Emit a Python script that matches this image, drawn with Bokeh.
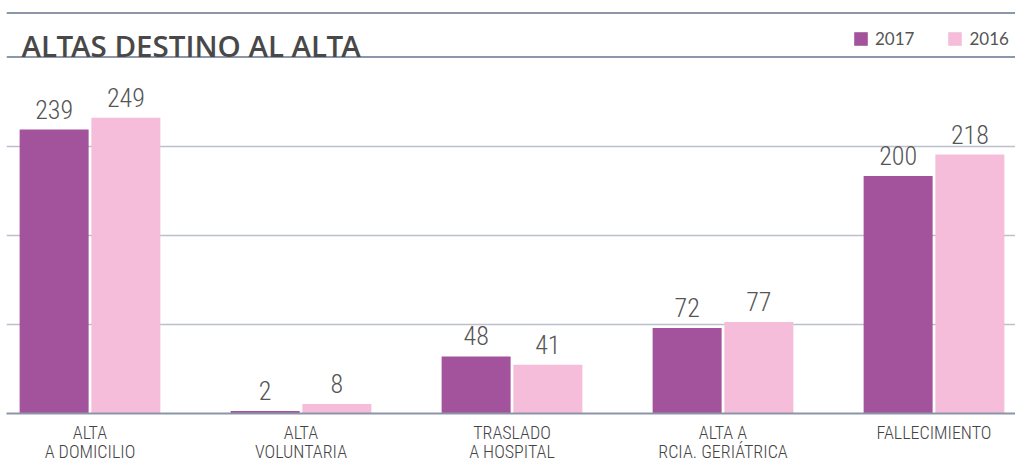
from bokeh.plotting import figure
from bokeh.models import ColumnDataSource, Range1d, FixedTicker, Span, Label, LabelSet, Legend, LegendItem
from bokeh.transform import dodge
from bokeh.core.properties import value
from bokeh.embed import file_html
from bokeh.resources import INLINE

# ---- data ----
categories = ["ALTA\nA DOMICILIO", "ALTA\nVOLUNTARIA", "TRASLADO\nA HOSPITAL",
              "ALTA A\nRCIA. GERIÁTRICA", "FALLECIMIENTO"]
years = ["2017", "2016"]
v2017 = [239, 2, 48, 72, 200]
v2016 = [249, 8, 41, 77, 218]
colors = ["#a3539b", "#f5bdda"]
title_text = "ALTAS DESTINO AL ALTA"

# ---- geometry helpers (picture pixel -> data) ----
LEFT = 6
FRAME_W, FRAME_H = 1009, 413
UNIT_X = 211.0       # px per category
PX_PER_VAL = 1.188   # px per unit value
X0 = (LEFT - 89.5) / UNIT_X
X1 = X0 + FRAME_W / UNIT_X
Y1 = FRAME_H / PX_PER_VAL

def dx(px):
    return X0 + (px - LEFT) / UNIT_X

def dy(py):
    return (FRAME_H - py) / PX_PER_VAL

idx = list(range(len(categories)))
src = ColumnDataSource(dict(x=idx, v2017=v2017, v2016=v2016,
                            l2017=[str(v) for v in v2017],
                            l2016=[str(v) for v in v2016]))

p = figure(frame_width=FRAME_W, frame_height=FRAME_H,
           x_range=Range1d(X0, X1), y_range=Range1d(0, Y1),
           output_backend="svg", toolbar_location=None,
           min_border_left=LEFT, min_border_right=0, min_border_top=0, min_border_bottom=51)
p.outline_line_color = None
p.background_fill_color = "white"
p.border_fill_color = "white"

# grid
p.xgrid.visible = False
p.yaxis.visible = False
p.ygrid.ticker = FixedTicker(ticks=[75, 150, 225])
p.ygrid.grid_line_color = "#bcc0cc"
p.ygrid.grid_line_width = 1.5

BW = 0.327
OFF = 0.17
r1 = p.vbar(x=dodge("x", -OFF, range=p.x_range), top="v2017", width=BW, source=src,
            fill_color=colors[0], line_color=None)
r2 = p.vbar(x=dodge("x", OFF, range=p.x_range), top="v2016", width=BW, source=src,
            fill_color=colors[1], line_color=None)

num_font = "'Roboto Condensed Light', 'Roboto Condensed', sans-serif"
for col, off in (("l2017", -OFF), ("l2016", OFF)):
    vcol = "v" + col[1:]
    p.add_layout(LabelSet(x=dodge("x", off, range=p.x_range), y=vcol, text=col, source=src,
                          y_offset=11, text_align="center", text_baseline="alphabetic",
                          text_font=value(num_font), text_font_size="26px",
                          text_color="#555555"))

# x axis
ax = p.xaxis[0]
ax.ticker = FixedTicker(ticks=idx)
ax.major_label_overrides = {i: c for i, c in zip(idx, categories)}
ax.major_tick_line_color = None
ax.minor_tick_line_color = None
ax.axis_line_color = "#8b95aa"
ax.axis_line_width = 2
ax.major_label_text_font = "'Roboto Condensed Light', 'Roboto Condensed', sans-serif"
ax.major_label_text_font_size = "18px"
ax.major_label_text_color = "#444444"
ax.major_label_text_line_height = 0.93
ax.major_label_standoff = 2

# header lines and title
for py in (12.5, 56.5):
    p.add_layout(Span(location=dy(py), dimension="width", line_color="#8d97ab", line_width=2))

p.add_layout(Label(x=dx(21), y=dy(45), text=title_text,
                   text_font="'Open Sans SemiBold', 'Open Sans Semibold', 'Open Sans'",
                   text_font_style="normal", text_font_size="29.5px", text_color="#484848",
                   text_baseline="alphabetic"))

legend = Legend(items=[LegendItem(label=years[0], renderers=[r1]),
                       LegendItem(label=years[1], renderers=[r2])],
                orientation="horizontal", location=(852 - LEFT, FRAME_H - 49),
                glyph_width=17, glyph_height=17, label_height=17, label_standoff=6,
                spacing=32, padding=0, margin=0, border_line_color=None,
                background_fill_alpha=0, label_text_font="Lato",
                label_text_font_size="17px", label_text_color="#555555")
p.add_layout(legend)

open("out.html", "w").write(file_html(p, INLINE))
